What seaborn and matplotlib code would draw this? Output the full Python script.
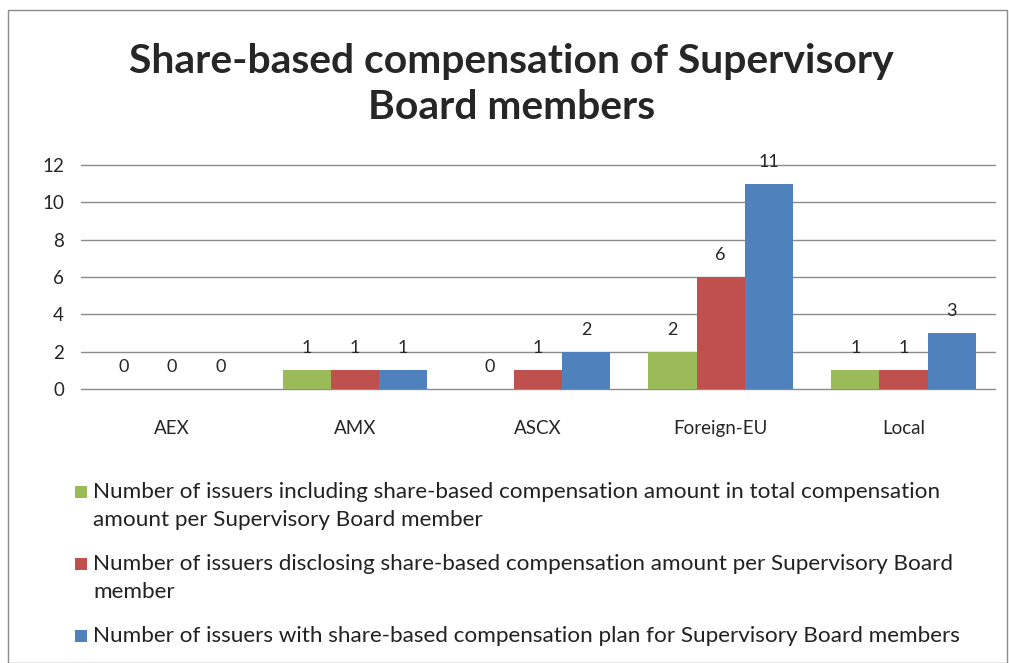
import seaborn as sns
import matplotlib.pyplot as plt
import pandas as pd
from matplotlib.patches import Rectangle

# Values
markets = ['AEX', 'AMX', 'ASCX', 'Foreign-EU', 'Local']
including_total = [0, 1, 0, 2, 1]
disclosing_amount = [0, 1, 1, 6, 1]
with_plan = [0, 1, 2, 11, 3]

series_labels = [
    'Number of issuers including share-based compensation amount in total compensation\namount per Supervisory Board member',
    'Number of issuers disclosing share-based compensation amount per Supervisory Board\nmember',
    'Number of issuers with share-based compensation plan for Supervisory Board members',
]
colors = ['#9BBB59', '#C0504D', '#4F81BD']

df = pd.DataFrame({
    'market': markets * 3,
    'series': [series_labels[0]] * 5 + [series_labels[1]] * 5 + [series_labels[2]] * 5,
    'count': including_total + disclosing_amount + with_plan,
})

sns.set_style('white')
plt.rcParams['font.family'] = ['Lato', 'DejaVu Sans']

W, H = 1009, 663
fig = plt.figure(figsize=(W / 100, H / 100), dpi=100)
ax = fig.add_axes([0.080, 0.4133, 0.906, 0.3379])

sns.barplot(data=df, x='market', y='count', hue='series', hue_order=series_labels,
            palette=colors, width=0.79, saturation=1, linewidth=0, ax=ax, legend=False)

for cont in ax.containers:
    ax.bar_label(cont, padding=10, fontsize=13)

ax.set_ylim(0, 12)
ax.set_yticks(range(0, 13, 2))
ax.yaxis.grid(True, color='#8c8c8c', linewidth=1)
for gl in ax.get_ygridlines():
    gl.set_clip_on(False)
ax.set_axisbelow(True)
for s in ax.spines.values():
    s.set_visible(False)
ax.tick_params(axis='both', length=0, labelsize=13.5)
ax.tick_params(axis='y', pad=12)
ax.tick_params(axis='x', pad=22)
ax.set_xlabel('')
ax.set_ylabel('')

# legend drawn by hand so the swatch sits on the first line of each entry
line_y = 492
for label, col in zip(series_labels, colors):
    fig.patches.append(Rectangle((75 / W, 1 - (line_y + 6) / H), 12 / W, 12 / H,
                                 transform=fig.transFigure, facecolor=col, edgecolor='none'))
    for line in label.split('\n'):
        fig.text(93 / W, 1 - line_y / H, line, fontsize=16.2, va='center', ha='left',
                 color='#222222')
        line_y += 28
    line_y += 16

fig.suptitle('Share-based compensation of Supervisory\nBoard members', x=0.507, y=0.935,
             fontsize=29.4, fontweight='bold', linespacing=1.3)

fig.patches.append(Rectangle((0.008, 0.0), 0.99, 0.985, transform=fig.transFigure,
                             fill=False, edgecolor='#8c8c8c', linewidth=1))

plt.savefig('out.png', dpi=100)
